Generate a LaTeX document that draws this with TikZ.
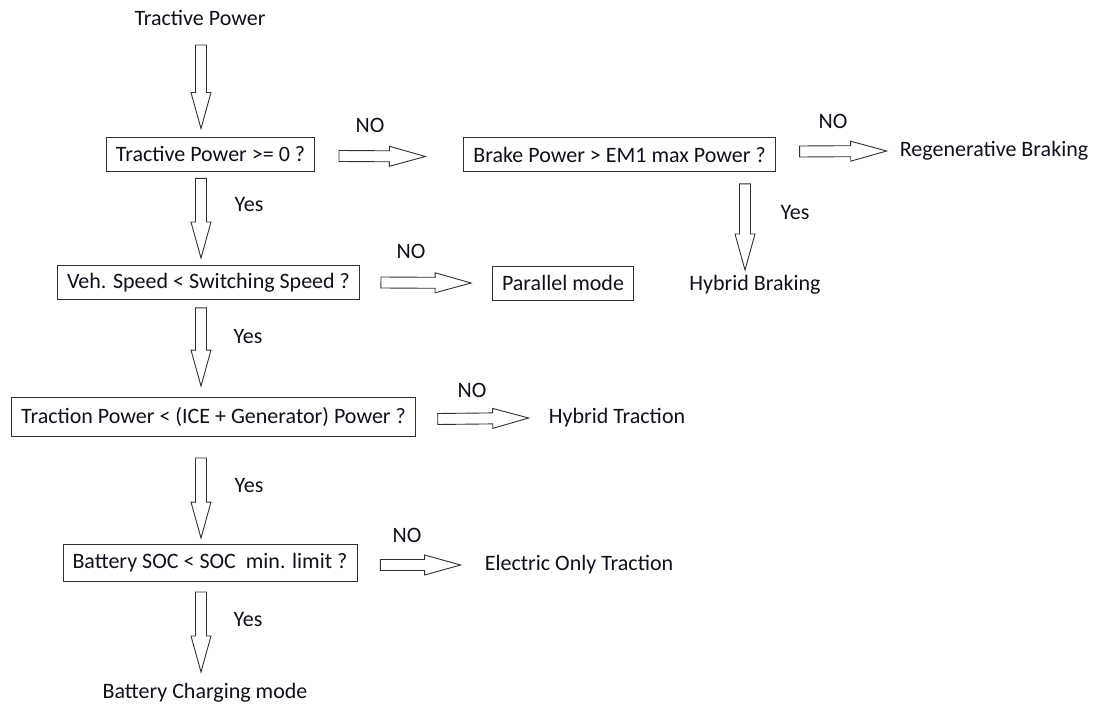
\documentclass[tikz,border=0pt]{standalone}
\usepackage{fontspec}
\setmainfont{Carlito}
\usepackage{xcolor}
\usetikzlibrary{calc,positioning}

\definecolor{ink}{HTML}{10101C}
\definecolor{frame}{HTML}{303030}

% hollow block arrow from #1 to #2
\newcommand{\blockarrow}[2]{%
  \draw[blockarr] let \p1=#1, \p2=#2,
      \n1={atan2(\y2-\y1,\x2-\x1)}, \n2={veclen(\x2-\x1,\y2-\y1)}, \n3={\n2-36pt} in
    [shift={(\p1)}, rotate=\n1]
    (0pt,-5.5pt) -- (\n3,-5.5pt) -- (\n3,-10pt) -- (\n2,0pt)
    -- (\n3,10pt) -- (\n3,5.5pt) -- (0pt,5.5pt) -- cycle;}

\begin{document}
\begin{tikzpicture}[
    x=1pt, y=-1pt, font=\fontsize{22}{26}\selectfont,
    box/.style={draw=frame, line width=0.9pt, text=ink, inner xsep=9.5pt, minimum height=34pt},
    txt/.style={text=ink, inner sep=0pt},
    blockarr/.style={draw=frame, line width=0.9pt, fill=white, line join=miter}
]

\path[use as bounding box] (0,0) rectangle (1097,708);
\coordinate (spine) at (201,0);

% questions
\node[txt] (start) at (200,18) {Tractive Power};
\node[box] (q1) at (210.5,154) {Tractive Power >= 0 ?};
\node[box] (q2) at (619.5,154.5) {Brake Power > EM1 max Power ?};
\node[box] (q3) at (208.5,282.5) {Veh. Speed < Switching Speed ?};
\node[box, minimum height=39pt] (q4) at (213.5,417) {Traction Power < (ICE + Generator) Power ?};
\node[box, minimum height=37pt] (q5) at (210,563) {Battery SOC < SOC\ \ min. limit ?};

% modes
\node[txt] (regen) at (994,151) {Regenerative Braking};
\node[txt] (hybrake) at (755,285) {Hybrid Braking};
\node[box] (par) at (563,283) {Parallel mode};
\node[txt] (hytr) at (617,418) {Hybrid Traction};
\node[txt] (elec) at (579,565) {Electric Only Traction};
\node[txt] (charge) at (205,693) {Battery Charging mode};

% answers
\node[txt] (no1) at (370,125) {NO};
\node[txt] (no2) at (833,121) {NO};
\node[txt] (no3) at (411,251) {NO};
\node[txt] (no4) at (472,390) {NO};
\node[txt] (no5) at (407,535) {NO};
\node[txt] (yes1) at (249,205) {Yes};
\node[txt] (yes2) at (795,213) {Yes};
\node[txt] (yes3) at (248,337) {Yes};
\node[txt] (yes4) at (249,486) {Yes};
\node[txt] (yes5) at (248,620) {Yes};

% down the spine
\blockarrow{($(start.center -| spine)+(0,27)$)}{($(q1.north -| spine)+(0,-8)$)}
\blockarrow{($(q1.south -| spine)+(0,7)$)}{($(q3.north -| spine)+(0,-7)$)}
\blockarrow{($(q3.south -| spine)+(0,8)$)}{($(q4.north -| spine)+(0,-11)$)}
\blockarrow{($(q4.south -| spine)+(0,21)$)}{($(q5.north -| spine)+(0,-6)$)}
\blockarrow{($(q5.south -| spine)+(0,10)$)}{($(charge.center -| spine)+(0,-21)$)}

% side branches
\blockarrow{($(q1.east)+(24,2)$)}{($(q2.west)+(-38,2)$)}
\blockarrow{($(q2.east)+(24,-3)$)}{($(regen.west)+(-13,0)$)}
\blockarrow{($(q2.south -| hybrake)+(-10,12)$)}{($(hybrake.center)+(-10,-15)$)}
\blockarrow{($(q3.east)+(21,0)$)}{($(par.west)+(-21,0)$)}
\blockarrow{($(q4.east)+(22,2)$)}{($(hytr.west)+(-20,0)$)}
\blockarrow{($(q5.east)+(23,2)$)}{($(elec.west)+(-24,0)$)}

\end{tikzpicture}
\end{document}
